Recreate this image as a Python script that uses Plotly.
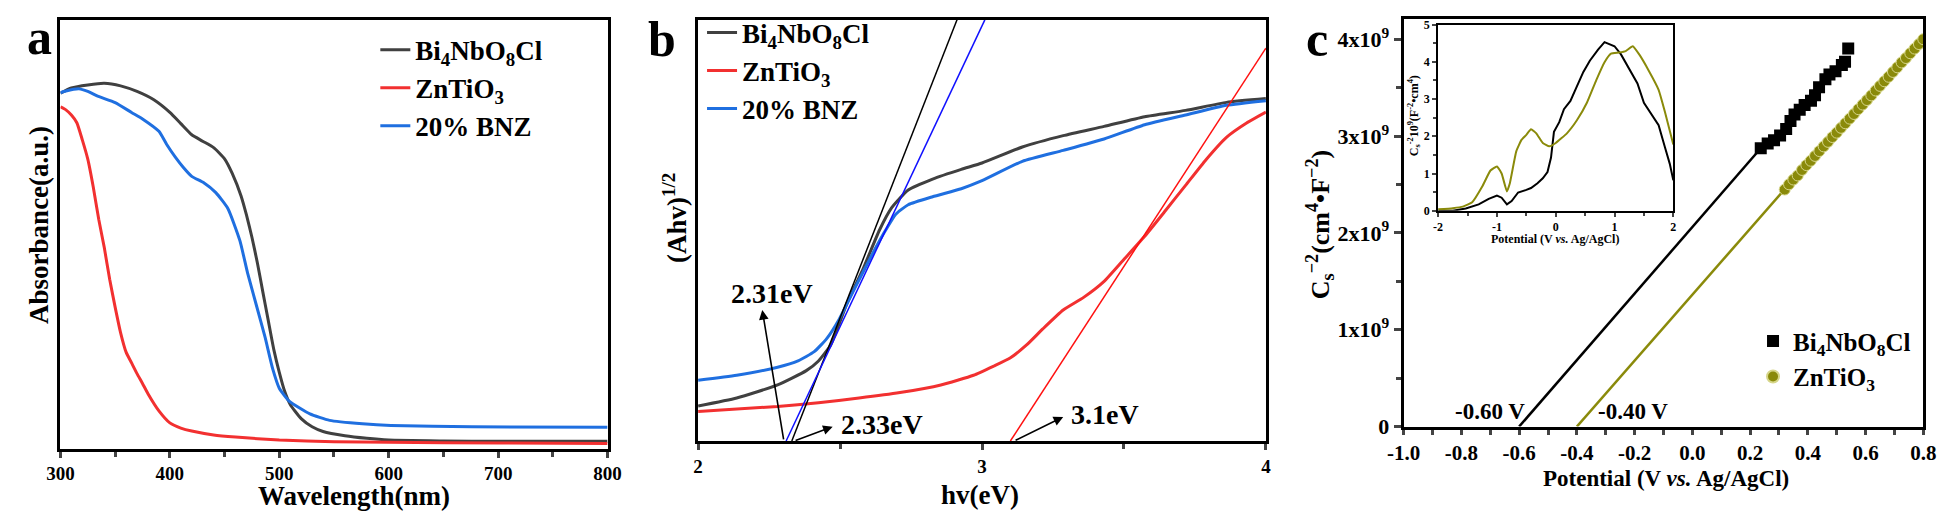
import plotly.graph_objects as go

# ---------------- data: panel a (UV-vis absorbance) ----------------
wl_black = [300, 310, 325, 340, 355, 370, 385, 400, 410, 420, 430, 440, 450, 457, 465, 470, 475,
            480, 485, 490, 495, 500, 505, 510, 520, 530, 540, 560, 580, 600, 650, 700, 800]
abs_black = [0.829, 0.841, 0.848, 0.852, 0.846, 0.833, 0.814, 0.784, 0.758, 0.732, 0.717, 0.702,
             0.676, 0.642, 0.590, 0.545, 0.493, 0.433, 0.365, 0.298, 0.231, 0.178, 0.133, 0.103,
             0.070, 0.051, 0.040, 0.030, 0.024, 0.020, 0.018, 0.017, 0.017]
wl_red = [300, 305, 310, 315, 320, 325, 330, 335, 340, 345, 350, 355, 360, 365, 370, 375, 380,
          390, 400, 410, 420, 440, 460, 500, 550, 600, 700, 800]
abs_red = [0.797, 0.790, 0.778, 0.760, 0.720, 0.675, 0.610, 0.535, 0.470, 0.395, 0.330, 0.270,
           0.225, 0.200, 0.175, 0.152, 0.128, 0.088, 0.060, 0.048, 0.041, 0.032, 0.027, 0.020,
           0.016, 0.015, 0.013, 0.012]
wl_blue = [300, 305, 317, 325, 334, 350, 365, 375, 390, 397, 405, 412, 420, 431, 442, 453, 464,
           471, 479, 487, 494, 500, 509, 528, 546, 576, 602, 676, 800]
abs_blue = [0.830, 0.834, 0.839, 0.833, 0.822, 0.807, 0.784, 0.769, 0.740, 0.710, 0.680, 0.657,
            0.635, 0.620, 0.597, 0.560, 0.485, 0.410, 0.335, 0.260, 0.186, 0.141, 0.111, 0.081,
            0.066, 0.058, 0.054, 0.051, 0.050]

# ---------------- data: panel b (Tauc plot) ----------------
ev_black = [2.0, 2.136, 2.28, 2.381, 2.424, 2.467, 2.524, 2.582, 2.639, 2.682, 2.74, 2.826, 2.927,
            3.0, 3.142, 3.286, 3.43, 3.573, 3.717, 3.861, 4.0]
ahv_black = [0.083, 0.102, 0.133, 0.167, 0.190, 0.228, 0.326, 0.410, 0.501, 0.554, 0.596, 0.622,
             0.645, 0.660, 0.698, 0.725, 0.747, 0.770, 0.785, 0.804, 0.813]
ev_red = [2.0, 2.28, 2.424, 2.567, 2.711, 2.855, 2.97, 3.042, 3.099, 3.157, 3.214, 3.286, 3.358,
          3.43, 3.501, 3.573, 3.645, 3.717, 3.789, 3.861, 3.932, 4.0]
ahv_red = [0.070, 0.082, 0.091, 0.102, 0.115, 0.133, 0.156, 0.178, 0.197, 0.228, 0.266, 0.311,
           0.341, 0.379, 0.432, 0.486, 0.546, 0.607, 0.668, 0.721, 0.755, 0.781]
ev_blue = [2.0, 2.136, 2.28, 2.352, 2.409, 2.453, 2.496, 2.553, 2.611, 2.654, 2.697, 2.74, 2.826,
           2.927, 3.0, 3.142, 3.286, 3.43, 3.573, 3.717, 3.861, 4.0]
ahv_blue = [0.144, 0.156, 0.175, 0.190, 0.212, 0.243, 0.288, 0.364, 0.440, 0.493, 0.539, 0.561,
            0.580, 0.599, 0.618, 0.664, 0.690, 0.717, 0.751, 0.774, 0.797, 0.808]
tan_black_x = [2.33, 2.912]
tan_black_y = [0.0, 1.0]
tan_blue_x = [2.31, 3.01]
tan_blue_y = [0.0, 1.0]
tan_red_x = [3.10, 4.0]
tan_red_y = [0.0, 0.933]
gap_labels = ["2.31eV", "2.33eV", "3.1eV"]

# ---------------- data: panel c (Mott-Schottky) ----------------
ms_bi_x = [0.237, 0.261, 0.283, 0.304, 0.325, 0.340, 0.354, 0.372, 0.389, 0.411, 0.425, 0.439,
           0.461, 0.475, 0.496, 0.518, 0.529, 0.540]
ms_bi_y = [2.874e9, 2.924e9, 2.957e9, 3.007e9, 3.073e9, 3.156e9, 3.222e9, 3.272e9, 3.321e9,
           3.364e9, 3.421e9, 3.503e9, 3.586e9, 3.636e9, 3.669e9, 3.735e9, 3.768e9, 3.905e9]
ms_zn_x = [0.32, 0.335, 0.35, 0.365, 0.38, 0.395, 0.41, 0.425, 0.44, 0.455, 0.47, 0.485, 0.50,
           0.515, 0.53, 0.545, 0.56, 0.575, 0.59, 0.605, 0.62, 0.635, 0.65, 0.665, 0.68, 0.695,
           0.71, 0.725, 0.74, 0.755, 0.77, 0.785, 0.80]
ms_zn_y = [2.448e9, 2.502e9, 2.551e9, 2.593e9, 2.650e9, 2.700e9, 2.745e9, 2.795e9, 2.845e9,
           2.893e9, 2.940e9, 2.990e9, 3.035e9, 3.085e9, 3.132e9, 3.180e9, 3.228e9, 3.278e9,
           3.325e9, 3.372e9, 3.420e9, 3.470e9, 3.518e9, 3.566e9, 3.612e9, 3.662e9, 3.710e9,
           3.760e9, 3.806e9, 3.855e9, 3.903e9, 3.950e9, 4.000e9]
fit_bi_x = [-0.60, 0.237]
fit_bi_y = [0.0, 2.874e9]
fit_zn_x = [-0.40, 0.318]
fit_zn_y = [0.0, 2.444e9]
flat_band_labels = ["-0.60 V", "-0.40 V"]

# inset
in_bi_x = [-2.0, -1.75, -1.53, -1.31, -1.14, -1.0, -0.92, -0.83, -0.75, -0.64, -0.5, -0.42, -0.31,
           -0.22, -0.14, -0.08, -0.03, 0.06, 0.14, 0.25, 0.36, 0.47, 0.58, 0.72, 0.83, 0.92, 1.0,
           1.11, 1.25, 1.39, 1.5, 1.64, 1.75, 1.86, 1.94, 2.0]
in_bi_y = [0.0, 0.0, 0.06, 0.17, 0.32, 0.41, 0.35, 0.17, 0.26, 0.49, 0.56, 0.61, 0.74, 0.87, 1.04,
           1.43, 2.12, 2.38, 2.73, 2.95, 3.34, 3.73, 4.03, 4.33, 4.53, 4.46, 4.42, 4.20, 3.81, 3.42,
           2.90, 2.56, 2.30, 1.69, 1.26, 0.82]
in_zn_x = [-2.0, -1.75, -1.58, -1.42, -1.25, -1.11, -1.0, -0.92, -0.83, -0.78, -0.67, -0.58, -0.5,
           -0.42, -0.33, -0.22, -0.11, 0.0, 0.19, 0.36, 0.53, 0.69, 0.83, 0.94, 1.08, 1.19, 1.31,
           1.42, 1.58, 1.75, 1.86, 2.0]
in_zn_y = [0.04, 0.07, 0.11, 0.23, 0.65, 1.08, 1.19, 1.0, 0.52, 0.74, 1.60, 1.91, 2.04, 2.19, 2.08,
           1.82, 1.73, 1.82, 2.08, 2.43, 2.90, 3.51, 3.99, 4.22, 4.25, 4.29, 4.42, 4.20, 3.77, 3.25,
           2.64, 1.78]

# ---------------- styling ----------------
W, H = 1946, 516
FONT = "Liberation Serif, Times New Roman, serif"
C_BLK = "#404040"
C_RED = "#f23030"
C_BLU = "#1f6fe0"
C_OLV = "#8a8a0a"

def px(x):
    return x / W

def py(y):
    return 1 - y / H

BI = "Bi<sub>4</sub>NbO<sub>8</sub>Cl"
ZN = "ZnTiO<sub>3</sub>"
BNZ = "20% BNZ"

fig = go.Figure()

# panel a
for xs, ys, c, n in [(wl_black, abs_black, C_BLK, BI), (wl_red, abs_red, C_RED, ZN),
                     (wl_blue, abs_blue, C_BLU, BNZ)]:
    fig.add_trace(go.Scatter(x=xs, y=ys, mode="lines", name=n, legend="legend",
                             line=dict(color=c, width=3, shape="spline", smoothing=0.5),
                             xaxis="x", yaxis="y"))
# panel b
for xs, ys, c, n in [(ev_black, ahv_black, C_BLK, BI), (ev_red, ahv_red, C_RED, ZN),
                     (ev_blue, ahv_blue, C_BLU, BNZ)]:
    fig.add_trace(go.Scatter(x=xs, y=ys, mode="lines", name=n, legend="legend2",
                             line=dict(color=c, width=3, shape="spline", smoothing=0.5),
                             xaxis="x2", yaxis="y2"))
for xs, ys, c in [(tan_black_x, tan_black_y, "#000000"), (tan_blue_x, tan_blue_y, "#1010ff"),
                  (tan_red_x, tan_red_y, "#ff1010")]:
    fig.add_trace(go.Scatter(x=xs, y=ys, mode="lines", showlegend=False,
                             line=dict(color=c, width=1.5), xaxis="x2", yaxis="y2"))
# panel c
fig.add_trace(go.Scatter(x=fit_bi_x, y=fit_bi_y, mode="lines", showlegend=False,
                         line=dict(color="#000000", width=2.5), xaxis="x3", yaxis="y3"))
fig.add_trace(go.Scatter(x=fit_zn_x, y=fit_zn_y, mode="lines", showlegend=False,
                         line=dict(color=C_OLV, width=2.5), xaxis="x3", yaxis="y3"))
fig.add_trace(go.Scatter(x=ms_bi_x, y=ms_bi_y, mode="markers", name=BI, legend="legend3",
                         marker=dict(symbol="square", size=12, color="#000000"),
                         xaxis="x3", yaxis="y3"))
fig.add_trace(go.Scatter(x=ms_zn_x, y=ms_zn_y, mode="markers", name=ZN, legend="legend3",
                         marker=dict(symbol="circle", size=11, color=C_OLV,
                                     line=dict(color="#d6d68a", width=1)),
                         xaxis="x3", yaxis="y3"))
# inset
fig.add_trace(go.Scatter(x=in_bi_x, y=in_bi_y, mode="lines", showlegend=False,
                         line=dict(color="#000000", width=2), xaxis="x4", yaxis="y4"))
fig.add_trace(go.Scatter(x=in_zn_x, y=in_zn_y, mode="lines", showlegend=False,
                         line=dict(color=C_OLV, width=2, shape="spline", smoothing=0.4),
                         xaxis="x4", yaxis="y4"))

tf = dict(family=FONT, size=19, color="#000", weight="bold")
frame = dict(showline=True, linewidth=3, linecolor="#000", mirror=True, showgrid=False,
             zeroline=False)

fig.update_layout(
    width=W, height=H, margin=dict(l=0, r=0, t=0, b=0),
    paper_bgcolor="white", plot_bgcolor="white",
    font=dict(family=FONT, color="#000"),
    xaxis=dict(domain=[px(36), px(592)], range=[300, 800], anchor="y",
               tickvals=[300, 400, 500, 600, 700, 800], ticks="outside", ticklen=6, tickwidth=2.5,
               minor=dict(dtick=50, tick0=300, ticks="outside", ticklen=5, tickwidth=2.5),
               tickfont=tf, **frame),
    yaxis=dict(domain=[py(451), py(4)], range=[0, 1], anchor="x", showticklabels=False,
               ticks="", **frame),
    xaxis2=dict(domain=[px(684), px(1261)], range=[2, 4], anchor="y2",
                tickvals=[2, 3, 4], ticktext=["2", "3", "4"], ticks="outside", ticklen=6,
                tickwidth=2.5,
                minor=dict(dtick=0.5, tick0=2, ticks="outside", ticklen=5, tickwidth=2.5),
                tickfont=tf, **frame),
    yaxis2=dict(domain=[py(443), py(4)], range=[0, 1], anchor="x2", showticklabels=False,
                ticks="", **frame),
    xaxis3=dict(domain=[px(1401), px(1929)], range=[-1.0, 0.8], anchor="y3",
                tickvals=[-1.0, -0.8, -0.6, -0.4, -0.2, 0.0, 0.2, 0.4, 0.6, 0.8],
                ticktext=["-1.0", "-0.8", "-0.6", "-0.4", "-0.2", "0.0", "0.2", "0.4", "0.6",
                          "0.8"],
                ticks="outside", ticklen=5, tickwidth=2.5,
                minor=dict(dtick=0.1, tick0=-1.0, ticks="outside", ticklen=5, tickwidth=2.5),
                tickfont=dict(family=FONT, size=21, color="#000", weight="bold"), **frame),
    yaxis3=dict(domain=[py(428), py(3)], range=[0, 4.21e9], anchor="x3",
                tickvals=[0, 1e9, 2e9, 3e9, 4e9],
                ticktext=["0", "1x10<sup>9</sup>", "2x10<sup>9</sup>", "3x10<sup>9</sup>",
                          "4x10<sup>9</sup>"],
                ticks="outside", ticklen=7, tickwidth=2.5,
                minor=dict(dtick=0.5e9, tick0=0, ticks="outside", ticklen=5, tickwidth=2.5),
                tickfont=dict(family=FONT, size=22, color="#000", weight="bold"), **frame),
    xaxis4=dict(domain=[px(1436), px(1675)], range=[-2, 2], anchor="y4",
                tickvals=[-2, -1, 0, 1, 2], ticktext=["-2", "-1", "0", "1", "2"],
                ticks="outside", ticklen=4, tickwidth=1.5,
                minor=dict(dtick=0.5, tick0=-2, ticks="outside", ticklen=3, tickwidth=1.5),
                tickfont=dict(family=FONT, size=12, color="#000", weight="bold"),
                showline=True, linewidth=2, linecolor="#000", mirror=True, showgrid=False,
                zeroline=False),
    yaxis4=dict(domain=[py(203), py(9)], range=[0, 5], anchor="x4",
                tickvals=[0, 1, 2, 3, 4, 5], ticks="outside", ticklen=4, tickwidth=1.5,
                minor=dict(dtick=0.5, tick0=0, ticks="outside", ticklen=3, tickwidth=1.5),
                tickfont=dict(family=FONT, size=12, color="#000", weight="bold"),
                showline=True, linewidth=2, linecolor="#000", mirror=True, showgrid=False,
                zeroline=False),
    legend=dict(x=px(356), y=py(10), xanchor="left", yanchor="top",
                bgcolor="rgba(0,0,0,0)", font=dict(family=FONT, size=27, weight="bold"),
                tracegroupgap=0),
    legend2=dict(x=px(688), y=py(-8), xanchor="left", yanchor="top",
                 bgcolor="rgba(0,0,0,0)", font=dict(family=FONT, size=27, weight="bold"),
                 tracegroupgap=0),
    legend3=dict(x=px(1756), y=py(315), xanchor="left", yanchor="top",
                 bgcolor="rgba(0,0,0,0)", font=dict(family=FONT, size=25, weight="bold"),
                 tracegroupgap=0, itemsizing="constant"),
    showlegend=True,
)

ann = []

def txt(x, y, s, size, angle=0, xanchor="center"):
    ann.append(dict(x=px(x), y=py(y), xref="paper", yref="paper", text=s, showarrow=False,
                    textangle=angle, xanchor=xanchor, yanchor="middle",
                    font=dict(family=FONT, size=size, color="#000", weight="bold")))

# panel labels
txt(15, 22, "a", 50)
txt(647, 24, "b", 50)
txt(1313, 24, "c", 50)
# axis titles
txt(334, 500, "Wavelength(nm)", 27)
txt(14, 218, "Absorbance(a.u.)", 27, -90)
txt(970, 499, "hv(eV)", 27)
txt(661, 210, "(Ahv)<sup>1/2</sup>", 27, -90)
txt(1668, 482, "Potential (V <i>vs.</i> Ag/AgCl)", 23)
txt(1316, 218, "C<sub>s</sub><sup>−2</sup>(cm<sup>4</sup>•F<sup>−2</sup>)", 26, -90)
txt(1555, 232, "Potential (V <i>vs.</i> Ag/AgCl)", 12)
txt(1412, 104, "C<sub>s</sub><sup>-2</sup>10<sup>9</sup>(F<sup>-2</sup>•cm<sup>4</sup>)", 12, -90)

# panel b band-gap labels and arrows
for (tx, ty), s in zip([(2.262, 0.349), (2.647, 0.040), (3.433, 0.063)], gap_labels):
    ann.append(dict(x=tx, y=ty, xref="x2", yref="y2", text=s, showarrow=False,
                    font=dict(family=FONT, size=28, color="#000", weight="bold")))
for (hx, hy), (tx, ty) in [((2.226, 0.311), (2.302, 0.0)), ((2.474, 0.034), (2.338, 0.0)),
                           ((3.286, 0.057), (3.113, 0.0))]:
    ann.append(dict(x=hx, y=hy, xref="x2", yref="y2", ax=tx, ay=ty, axref="x2", ayref="y2",
                    text="", showarrow=True, arrowhead=2, arrowsize=1.2, arrowwidth=1.6,
                    arrowcolor="#000"))
# panel c flat-band labels
for (tx, ty), s in zip([(-0.70, 0.16e9), (-0.205, 0.16e9)], flat_band_labels):
    ann.append(dict(x=tx, y=ty, xref="x3", yref="y3", text=s, showarrow=False,
                    font=dict(family=FONT, size=23, color="#000", weight="bold")))

fig.update_layout(annotations=ann)
fig.write_html("out.html")
